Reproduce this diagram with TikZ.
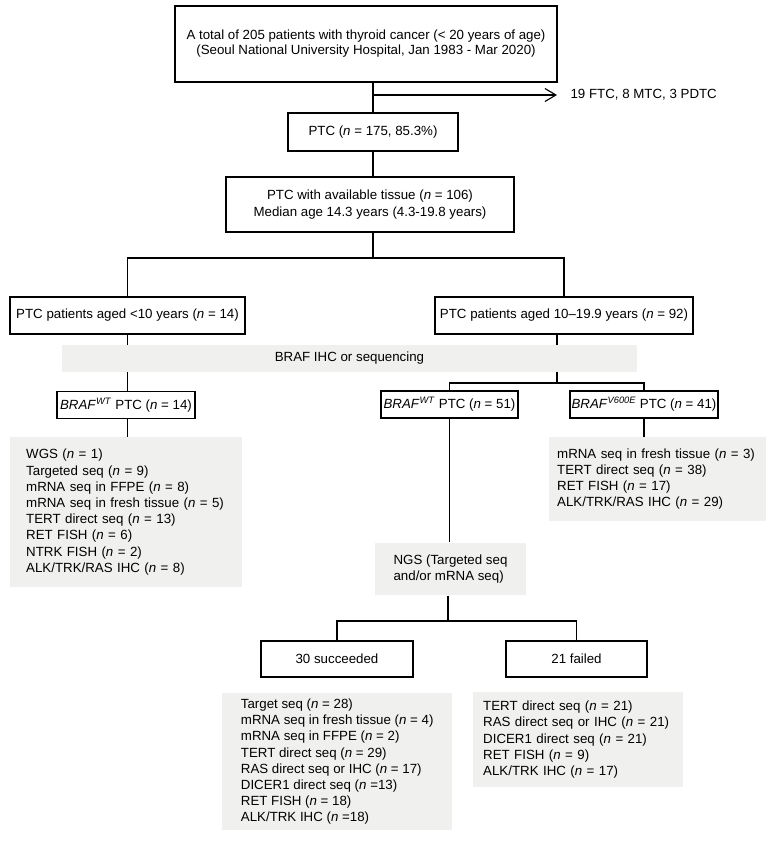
\documentclass[tikz,border=0pt]{standalone}
\usepackage{fontspec}
\setmainfont{Liberation Sans}
\usetikzlibrary{arrows.meta}
\definecolor{listgray}{RGB}{240,240,238}
\newcommand{\nn}{\textit{n}}
\newcommand{\braf}[1]{\textit{BRAF}\textsuperscript{\textit{#1}}}
\tikzset{
  box/.style={draw, line width=1.1pt, fill=white, align=center, inner sep=0pt},
  graylist/.style={fill=listgray, align=left, anchor=north west, inner ysep=0pt},
  link/.style={line width=1.1pt},
}

\begin{document}
\begin{tikzpicture}[x=1pt, y=-1pt, font=\fontsize{13.3}{16.2}\selectfont]
\useasboundingbox (0,0) rectangle (776,841);

% boxes
\node[box, minimum width=382, minimum height=76] (total) at (366,44)
  {A total of 205 patients with thyroid cancer (< 20 years of age)\\[-1.2pt]
   (Seoul National University Hospital, Jan 1983 - Mar 2020)};
\node[anchor=west] (other) at (567,95) {19 FTC, 8 MTC, 3 PDTC};
\node[box, minimum width=170, minimum height=38] (ptc) at (373,132) {PTC (\nn{} = 175, 85.3\%)};
\node[box, minimum width=288, minimum height=55] (tissue) at (370,204.5)
  {PTC with available tissue (\nn{} = 106)\\[1.5pt] Median age 14.3 years (4.3-19.8 years)};

\node[box, minimum width=235, minimum height=37] (young) at (127.5,315.5) {PTC patients aged <10 years (\nn{} = 14)};
\node[box, minimum width=258, minimum height=37] (older) at (564,315.5) {PTC patients aged 10–19.9 years (\nn{} = 92)};

\node[box, minimum width=138, minimum height=27] (wt14) at (126,405) {\braf{WT} PTC (\nn{} = 14)};
\node[box, minimum width=137, minimum height=27] (wt51) at (449.5,404.5) {\braf{WT} PTC (\nn{} = 51)};
\node[box, minimum width=148, minimum height=27] (v600) at (644,404.5) {\braf{V600E} PTC (\nn{} = 41)};

% lists
\node[graylist, minimum height=150, inner xsep=16, text width=200] (wt14list) at (10,437)
  {WGS (\nn{} = 1)\\ Targeted seq (\nn{} = 9)\\ mRNA seq in FFPE (\nn{} = 8)\\
   mRNA seq in fresh tissue (\nn{} = 5)\\ TERT direct seq (\nn{} = 13)\\ RET FISH (\nn{} = 6)\\
   NTRK FISH (\nn{} = 2)\\ ALK/TRK/RAS IHC (\nn{} = 8)};
\node[graylist, minimum height=84, inner xsep=8, text width=201] (v600list) at (549,437)
  {mRNA seq in fresh tissue (\nn{} = 3)\\ TERT direct seq (\nn{} = 38)\\
   RET FISH (\nn{} = 17)\\ ALK/TRK/RAS IHC (\nn{} = 29)};

\node[box, draw=none, fill=listgray, align=left, minimum width=151, minimum height=52] (ngs) at (450.5,569)
  {NGS (Targeted seq\\ and/or mRNA seq)};

\node[box, minimum width=152, minimum height=36] (succ) at (337,659) {30 succeeded};
\node[box, minimum width=141, minimum height=36] (fail) at (576.5,659) {21 failed};

\node[graylist, minimum height=137, minimum width=230, inner xsep=0] (succlist) at (222,693)
  {Target seq (\nn{} = 28)\\ mRNA seq in fresh tissue (\nn{} = 4)\\ mRNA seq in FFPE (\nn{} = 2)\\
   TERT direct seq (\nn{} = 29)\\ RAS direct seq or IHC (\nn{} = 17)\\ DICER1 direct seq (\nn{} =13)\\
   RET FISH (\nn{} = 18)\\ ALK/TRK IHC (\nn{} =18)};
\node[graylist, minimum height=95, inner xsep=10, text width=190] (faillist) at (473,692)
  {TERT direct seq (\nn{} = 21)\\ RAS direct seq or IHC (\nn{} = 21)\\ DICER1 direct seq (\nn{} = 21)\\
   RET FISH (\nn{} = 9)\\ ALK/TRK IHC (\nn{} = 17)};

% connectors
\draw[link] (total.south -| ptc.north) -- (ptc.north);
\draw[link, -{Straight Barb[length=11pt,width=13pt]}] (ptc.north |- other.west) -- ([xshift=-10pt]other.west);
\draw[link] (ptc.south) -- (ptc.south |- tissue.north);

\coordinate (split1) at (373,258);
\draw[link] (split1 |- tissue.south) -- (split1);
\draw[link] (young.north) |- (split1) -| (older.north);

\draw[link] (young.south) -- (young.south |- wt14.north);
\draw[link] (young.south |- wt14.south) -- (young.south |- wt14list.north);

\coordinate (split2) at (557,383);
\draw[link] (split2 |- older.south) -- (split2);
\draw[link] (wt51.north) |- (split2) -| (v600.north);
\draw[link] (v600.south) -- (v600.south |- v600list.north);

\draw[link] (wt51.south) -- (wt51.south |- ngs.north);
\coordinate (split3) at (448,621);
\draw[link] (split3 |- ngs.south) -- (split3);
\draw[link] (succ.north) |- (split3) -| (fail.north);

% band over the lines
\node[box, draw=none, fill=listgray, minimum width=575, minimum height=27] (band) at (349.5,358.5) {BRAF IHC or sequencing};

\end{tikzpicture}
\end{document}
